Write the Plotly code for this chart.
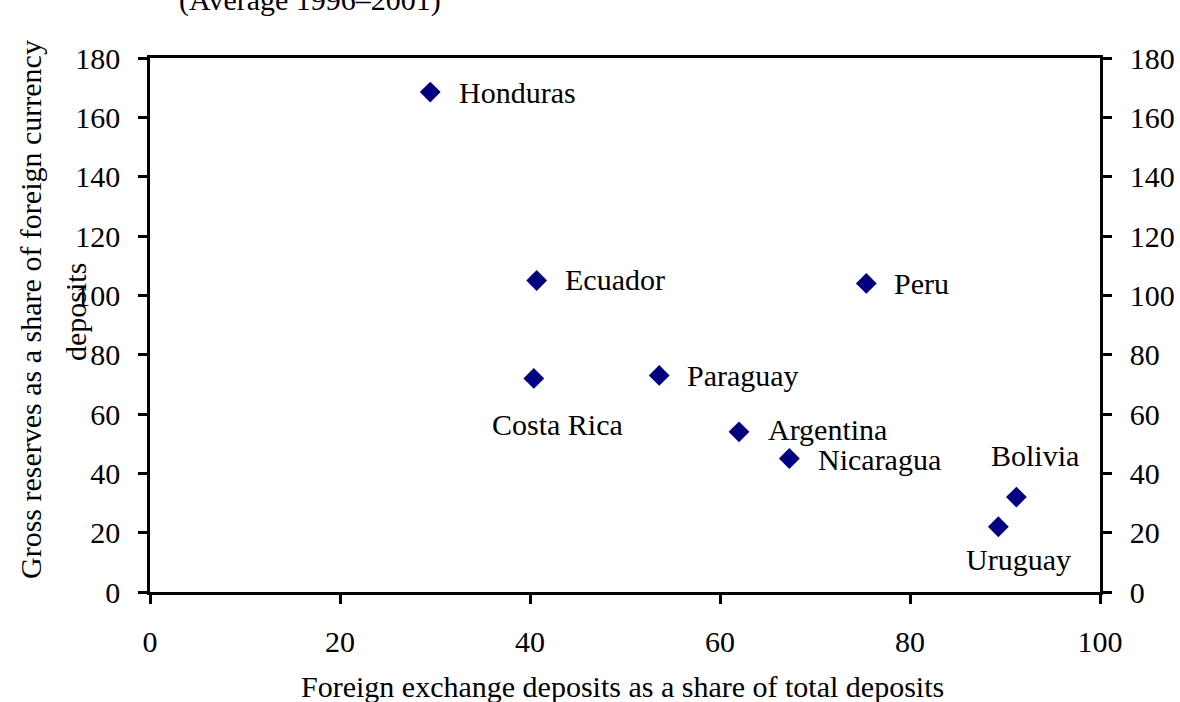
import plotly.graph_objects as go

countries = ["Honduras", "Ecuador", "Peru", "Costa Rica", "Paraguay",
             "Argentina", "Nicaragua", "Bolivia", "Uruguay"]
fx_share = [29.5, 40.7, 75.4, 40.4, 53.6, 62.0, 67.3, 91.2, 89.3]
reserves_share = [168.5, 105.0, 104.0, 72.0, 73.0, 54.0, 45.0, 32.0, 22.0]

x_ticks = [0, 20, 40, 60, 80, 100]
y_ticks = [0, 20, 40, 60, 80, 100, 120, 140, 160, 180]

FONT = "Liberation Serif, Times New Roman, serif"
FS = 30

# label placement: (xanchor, yanchor, xshift, yshift)
label_style = {
    "Honduras": ("left", "middle", 27, 0),
    "Ecuador": ("left", "middle", 26, 1),
    "Peru": ("left", "middle", 26, 0),
    "Costa Rica": ("center", "middle", 24, -46),
    "Paraguay": ("left", "middle", 26, 0),
    "Argentina": ("left", "middle", 27, 2),
    "Nicaragua": ("left", "middle", 27, -1),
    "Bolivia": ("center", "middle", 19, 42),
    "Uruguay": ("center", "middle", 20, -33),
}

fig = go.Figure()
fig.add_trace(go.Scatter(
    x=fx_share, y=reserves_share, mode="markers",
    marker=dict(symbol="diamond", size=16, color="#000080"),
    hoverinfo="skip", showlegend=False,
))
fig.add_trace(go.Scatter(
    x=fx_share, y=reserves_share, mode="markers", yaxis="y2",
    marker=dict(symbol="diamond", size=16, color="#000080", opacity=0),
    hoverinfo="skip", showlegend=False,
))

for c, xv, yv in zip(countries, fx_share, reserves_share):
    xa, ya, xs, ys = label_style[c]
    fig.add_annotation(x=xv, y=yv, xref="x", yref="y", text=c, showarrow=False,
                       xanchor=xa, yanchor=ya, xshift=xs, yshift=ys,
                       font=dict(family=FONT, size=FS, color="black"))

axis_common = dict(showline=True, linecolor="black", linewidth=2.5,
                   ticks="outside", ticklen=9, tickwidth=2.5, tickcolor="black",
                   showgrid=False, zeroline=False, automargin=False,
                   tickfont=dict(family=FONT, size=FS, color="black"))

fig.update_layout(
    width=1180, height=702,
    margin=dict(l=150, r=80, t=58, b=110),
    paper_bgcolor="white", plot_bgcolor="white",
    xaxis=dict(range=[0, 100], tickvals=x_ticks, mirror=True,
               ticklabelstandoff=12, **axis_common),
    yaxis=dict(range=[0, 180], tickvals=y_ticks, ticklabelstandoff=12,
               **axis_common),
    yaxis2=dict(range=[0, 180], tickvals=y_ticks, overlaying="y", side="right",
                ticklabelstandoff=12, **axis_common),
)

# chart title (partially cut at top)
fig.add_annotation(xref="paper", yref="paper", x=(310 - 150) / 950, y=1 + 58 / 534,
                   text="(Average 1996–2001)", showarrow=False,
                   xanchor="center", yanchor="middle",
                   font=dict(family=FONT, size=FS, color="black"))
# x-axis title
fig.add_annotation(xref="paper", yref="paper", x=(622 - 150) / 950, y=-(686 - 592) / 534,
                   text="Foreign exchange deposits as a share of total deposits",
                   showarrow=False, xanchor="center", yanchor="middle",
                   font=dict(family=FONT, size=FS, color="black"))
# y-axis title (two lines)
fig.add_annotation(xref="paper", yref="paper", x=-(150 - 30) / 950, y=(592 - 310) / 534,
                   text="Gross reserves as a share of foreign currency", textangle=-90,
                   showarrow=False, xanchor="center", yanchor="middle",
                   font=dict(family=FONT, size=FS, color="black"))
fig.add_annotation(xref="paper", yref="paper", x=-(150 - 75) / 950, y=(592 - 312) / 534,
                   text="deposits", textangle=-90,
                   showarrow=False, xanchor="center", yanchor="middle",
                   font=dict(family=FONT, size=FS, color="black"))

fig.write_html("out.html", config={"displayModeBar": False},
               post_script="document.body.style.margin='0';")
